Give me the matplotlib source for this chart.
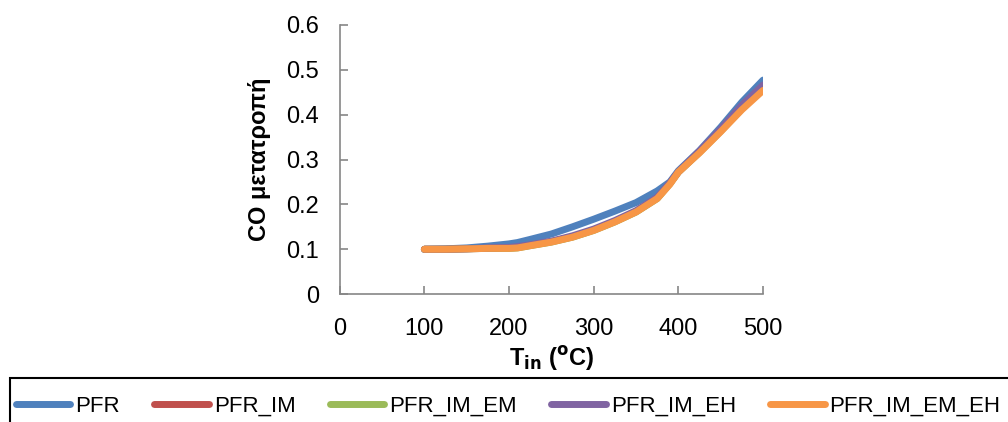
import matplotlib
matplotlib.use("Agg")
import matplotlib.pyplot as plt
from matplotlib.patches import Rectangle

# ----------------------------------
# Data
# ----------------------------------
t_in = [100, 125, 150, 175, 200, 210, 225, 250, 275, 300, 325, 350,
        375, 390, 400, 425, 450, 475, 500]

pfr = [0.100, 0.101, 0.103, 0.107, 0.112, 0.115, 0.122, 0.134, 0.150,
       0.167, 0.185, 0.204, 0.230, 0.250, 0.275, 0.320, 0.372, 0.428, 0.477]
pfr_im = [0.100, 0.100, 0.101, 0.102, 0.103, 0.104, 0.109, 0.117, 0.128,
          0.143, 0.162, 0.184, 0.214, 0.247, 0.272, 0.317, 0.364, 0.415, 0.458]
pfr_im_em = [0.100, 0.100, 0.101, 0.102, 0.102, 0.103, 0.108, 0.116, 0.127,
             0.142, 0.161, 0.183, 0.213, 0.246, 0.272, 0.316, 0.363, 0.413, 0.457]
pfr_im_eh = [0.100, 0.100, 0.101, 0.103, 0.104, 0.106, 0.110, 0.118, 0.130,
             0.145, 0.164, 0.186, 0.216, 0.248, 0.273, 0.319, 0.368, 0.421, 0.466]
pfr_im_em_eh = [0.100, 0.100, 0.101, 0.102, 0.102, 0.103, 0.108, 0.116, 0.127,
                0.142, 0.161, 0.183, 0.213, 0.245, 0.272, 0.315, 0.362, 0.411, 0.454]

series = [
    ("PFR", pfr, "#4F81BD"),
    ("PFR_IM", pfr_im, "#C0504D"),
    ("PFR_IM_EM", pfr_im_em, "#9BBB59"),
    ("PFR_IM_EH", pfr_im_eh, "#8064A2"),
    ("PFR_IM_EM_EH", pfr_im_em_eh, "#F79646"),
]

x_ticks = [0, 100, 200, 300, 400, 500]
y_ticks = [0, 0.1, 0.2, 0.3, 0.4, 0.5, 0.6]
y_tick_labels = ["0", "0.1", "0.2", "0.3", "0.4", "0.5", "0.6"]

plt.rcParams["font.family"] = ["Liberation Sans", "DejaVu Sans"]

fig = plt.figure(figsize=(10.08, 4.22), dpi=100)
ax = fig.add_axes([0.337, 0.303, 0.42, 0.638])

for name, vals, color in series:
    ax.plot(t_in, vals, color=color, lw=5.0, label=name,
            solid_capstyle="round", solid_joinstyle="round")

ax.set_xlim(0, 500)
ax.set_ylim(0, 0.6)
ax.set_xticks(x_ticks)
ax.set_yticks(y_ticks)
ax.set_yticklabels(y_tick_labels)
ax.tick_params(direction="in", length=6, width=1.2, color="#868686",
               labelsize=17)
ax.tick_params(axis="x", pad=17)
ax.tick_params(axis="y", pad=15)

for side in ["top", "right"]:
    ax.spines[side].set_visible(False)
for side in ["left", "bottom"]:
    ax.spines[side].set_color("#868686")
    ax.spines[side].set_linewidth(1.2)

ax.set_ylabel("CO μετατροπή", fontsize=17, fontweight="bold", labelpad=11)
ax.set_xlabel(r"T$_{\mathbf{in}}$ ($^{\mathbf{o}}$C)", fontsize=17,
              fontweight="bold", labelpad=3)

# legend frame drawn by hand: it runs off the right and bottom edges
fig.patches.append(Rectangle((10 / 1008, -0.1), 1.1, 1 - 378 / 422 + 0.1,
                             transform=fig.transFigure, fill=False,
                             edgecolor="black", lw=1.5))

handles, labels = ax.get_legend_handles_labels()
leg = fig.legend(handles, labels, loc="center left",
                 bbox_to_anchor=(16 / 1008, 1 - 406 / 422), ncol=5,
                 frameon=False, fontsize=16,
                 handlelength=2.45, handletextpad=0.22, columnspacing=1.55,
                 borderpad=0, borderaxespad=0)

fig.savefig("out.png", dpi=100)
